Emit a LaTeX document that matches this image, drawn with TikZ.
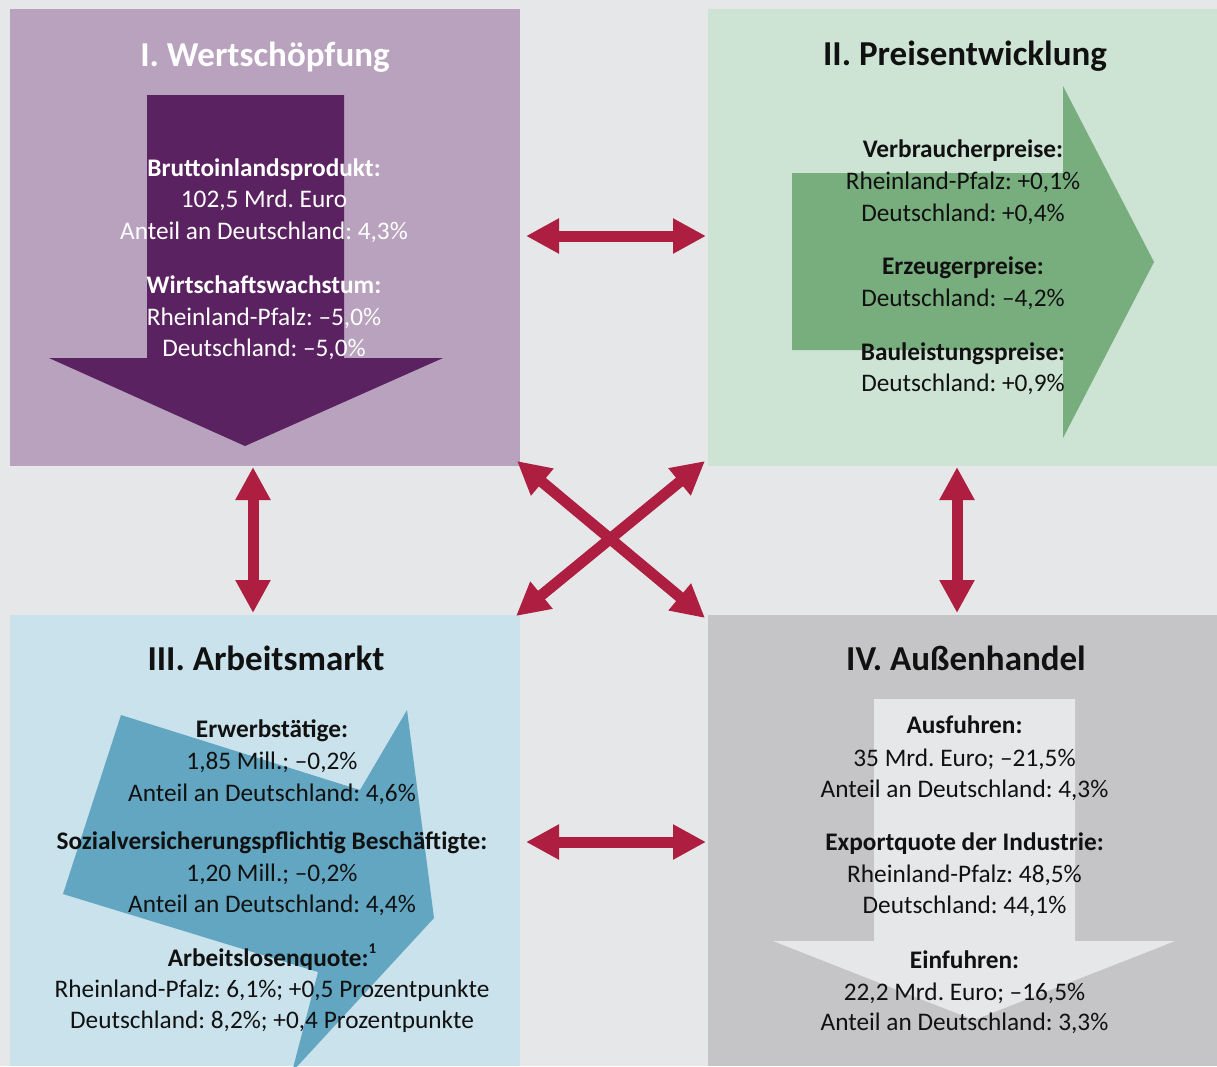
\documentclass[tikz,border=0pt]{standalone}
\usepackage{fontspec}
\setmainfont{Carlito}
\usetikzlibrary{arrows.meta}
\frenchspacing
\definecolor{bg}{HTML}{E6E7E9}
\definecolor{boxI}{HTML}{B8A2BD}
\definecolor{arrI}{HTML}{5A2260}
\definecolor{boxII}{HTML}{CDE3D4}
\definecolor{arrII}{HTML}{78AD7E}
\definecolor{boxIII}{HTML}{C9E2EB}
\definecolor{arrIII}{HTML}{62A6C1}
\definecolor{boxIV}{HTML}{C5C5C7}
\definecolor{arrIV}{HTML}{E6E7E9}
\definecolor{conred}{HTML}{AD1E40}
\definecolor{txt}{HTML}{111111}
\begin{document}
\frenchspacing
\begin{tikzpicture}[x=1pt,y=-1pt,
  panel/.style={rectangle,inner sep=0pt,outer sep=0pt,anchor=north west},
  conn/.style={draw=conred,line width=11pt,{Triangle[width=33pt,length=33pt]}-{Triangle[width=33pt,length=33pt]}},
  ttl/.style={anchor=base,inner sep=0pt,font=\fontsize{35}{40}\selectfont\bfseries\frenchspacing},
  ln/.style={anchor=base,inner sep=0pt,font=\fontsize{25.3}{29}\selectfont\frenchspacing},
  lb/.style={anchor=base,inner sep=0pt,font=\fontsize{25.3}{29}\selectfont\bfseries\frenchspacing}]
\useasboundingbox (0,0) rectangle (1217,1066);
\fill[bg] (0,0) rectangle (1217,1066);
% panels
\node[panel,fill=boxI,minimum width=510pt,minimum height=457pt] (b1) at (10,9) {};
\node[panel,fill=boxII,minimum width=509pt,minimum height=457pt] (b2) at (708,9) {};
\node[panel,fill=boxIII,minimum width=510pt,minimum height=451pt] (b3) at (10,615) {};
\node[panel,fill=boxIV,minimum width=509pt,minimum height=451pt] (b4) at (708,615) {};
% big arrows inside panels
\fill[arrI] (147,95) -- (344,95) -- (344,358) -- (443,358) -- (245,446) -- (49,358) -- (147,358) -- cycle;
\fill[arrII] (792,173) -- (1063,173) -- (1063,86) -- (1154,262) -- (1063,438) -- (1063,350) -- (792,350) -- cycle;
\begin{scope}
\clip (10,615) rectangle (520,1066);
\fill[arrIII] (121,715) -- (360,790) -- (407,710) -- (434,918) -- (292,1072) -- (318,972) -- (63,894) -- cycle;
\end{scope}
\fill[arrIV] (874,699) -- (1075,699) -- (1075,941) -- (1175,941) -- (974,1020) -- (773,941) -- (874,941) -- cycle;
% connectors
\draw[conn] ([xshift=6pt,yshift=1.5pt]b1.east) -- ([xshift=-2pt,yshift=1.5pt]b2.west);
\draw[conn] ([xshift=6pt,yshift=-1.5pt]b3.east) -- ([xshift=-2pt,yshift=-1.5pt]b4.west);
\draw[conn] ([xshift=-12pt,yshift=-1pt]b1.south) -- ([xshift=-12pt,yshift=2pt]b3.north);
\draw[conn] ([xshift=-5.5pt,yshift=-1pt]b2.south) -- ([xshift=-5.5pt,yshift=2pt]b4.north);
\draw[conn] ([xshift=-3pt,yshift=5pt]b1.south east) -- ([xshift=-3pt,yshift=-3pt]b4.north west);
\draw[conn] ([xshift=-3pt,yshift=5pt]b2.south west) -- ([xshift=-4pt,yshift=-1pt]b3.north east);
% panel I text
\begin{scope}[every node/.append style={text=white}]
\node[ttl] (t1) at (265,66) {I. Wertschöpfung};
\node[lb] (t1a) at (264,176) {Bruttoinlandsprodukt:};
\node[ln] (t1b) at (264,207) {102,5 Mrd. Euro};
\node[ln] (t1c) at (264,239) {Anteil an Deutschland: 4,3\%};
\node[lb] (t1d) at (264,293) {Wirtschaftswachstum:};
\node[ln] (t1e) at (264,325) {Rheinland-Pfalz: –5,0\%};
\node[ln] (t1f) at (264,356) {Deutschland: –5,0\%};
\end{scope}
\begin{scope}[every node/.append style={text=txt}]
% panel II
\node[ttl] (t2) at (965,65) {II. Preisentwicklung};
\node[lb] (t2a) at (963,157) {Verbraucherpreise:};
\node[ln] (t2b) at (963,189) {Rheinland-Pfalz: +0,1\%};
\node[ln] (t2c) at (963,221) {Deutschland: +0,4\%};
\node[lb] (t2d) at (963,274) {Erzeugerpreise:};
\node[ln] (t2e) at (963,306) {Deutschland: –4,2\%};
\node[lb] (t2f) at (963,360) {Bauleistungspreise:};
\node[ln] (t2g) at (963,391) {Deutschland: +0,9\%};
% panel III
\node[ttl] (t3) at (266,670) {III. Arbeitsmarkt};
\node[lb] (t3a) at (272,737) {Erwerbstätige:};
\node[ln] (t3b) at (272,769) {1,85 Mill.; –0,2\%};
\node[ln] (t3c) at (272,801) {Anteil an Deutschland: 4,6\%};
\node[lb] (t3d) at (272,849) {Sozialversicherungspflichtig Beschäftigte:};
\node[ln] (t3e) at (272,881) {1,20 Mill.; –0,2\%};
\node[ln] (t3f) at (272,912) {Anteil an Deutschland: 4,4\%};
\node[lb] (t3g) at (272,966) {Arbeitslosenquote:\raisebox{0.5em}{\fontsize{15}{15}\selectfont 1}};
\node[ln] (t3h) at (272,997) {Rheinland-Pfalz: 6,1\%; +0,5 Prozentpunkte};
\node[ln] (t3i) at (272,1028) {Deutschland: 8,2\%; +0,4 Prozentpunkte};
% panel IV
\node[ttl] (t4) at (966,670) {IV. Außenhandel};
\node[lb] (t4a) at (964.5,733) {Ausfuhren:};
\node[ln] (t4b) at (964.5,766) {35 Mrd. Euro; –21,5\%};
\node[ln] (t4c) at (964.5,797) {Anteil an Deutschland: 4,3\%};
\node[lb] (t4d) at (964.5,850) {Exportquote der Industrie:};
\node[ln] (t4e) at (964.5,882) {Rheinland-Pfalz: 48,5\%};
\node[ln] (t4f) at (964.5,913) {Deutschland: 44,1\%};
\node[lb] (t4g) at (964.5,968) {Einfuhren:};
\node[ln] (t4h) at (964.5,1000) {22,2 Mrd. Euro; –16,5\%};
\node[ln] (t4i) at (964.5,1030) {Anteil an Deutschland: 3,3\%};
\end{scope}
\end{tikzpicture}
\end{document}
